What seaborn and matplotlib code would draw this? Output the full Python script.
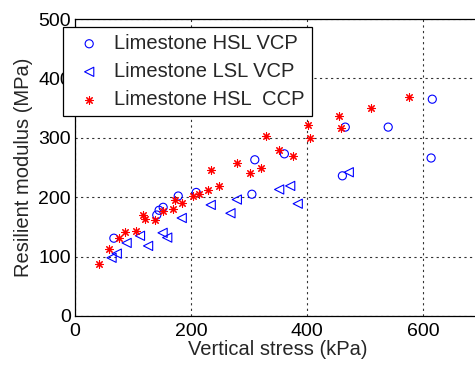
import numpy as np
import pandas as pd
import matplotlib
matplotlib.use("Agg")
import matplotlib.pyplot as plt
import seaborn as sns

# --- datos ---
hsl_vcp_x = [67, 141, 145, 152, 178, 209, 305, 310, 361, 466, 540, 616, 614, 461]
hsl_vcp_y = [131, 170, 178, 183, 202, 208, 205, 263, 273, 318, 318, 365, 266, 236]

lsl_vcp_x = [63, 72, 89, 112, 126, 151, 159, 184, 234, 268, 279, 352, 371, 384, 472]
lsl_vcp_y = [98, 105, 123, 135, 118, 140, 132, 165, 187, 173, 196, 213, 219, 189, 242]

hsl_ccp_x = [42, 59, 76, 86, 105, 117, 121, 138, 152, 169, 172, 184, 204, 213, 230,
             234, 249, 279, 301, 321, 329, 352, 375, 402, 405, 456, 459, 510, 575]
hsl_ccp_y = [87, 112, 132, 142, 143, 170, 163, 162, 176, 180, 196, 190, 202, 205, 212,
             246, 219, 257, 241, 250, 303, 279, 269, 322, 299, 336, 316, 351, 369]

etiquetas = ["Limestone HSL VCP", "Limestone LSL VCP", "Limestone HSL  CCP"]
x_ticks = [0, 200, 400, 600]
y_ticks = [0, 100, 200, 300, 400, 500]

sns.set_style("white")
plt.rcParams['font.family'] = ['Liberation Sans', 'DejaVu Sans']
FS = 14.5     # etiquetas y leyenda
FS_TICK = 14

W, H = 475, 365
fig = plt.figure(figsize=(W / 100, H / 100), dpi=100)
ax = fig.add_axes([75 / W, 1 - 316 / H, (481 - 75) / W, (316 - 19) / H])

sns.scatterplot(x=hsl_vcp_x, y=hsl_vcp_y, ax=ax, marker='o', s=34,
                facecolor='none', edgecolor='blue', linewidth=0.8,
                label=etiquetas[0], zorder=3)
sns.scatterplot(x=lsl_vcp_x, y=lsl_vcp_y, ax=ax, marker='<', s=44,
                facecolor='none', edgecolor='blue', linewidth=0.8,
                label=etiquetas[1], zorder=3)
sns.scatterplot(x=hsl_ccp_x, y=hsl_ccp_y, ax=ax, marker=(8, 2, 0), s=30,
                color='red', linewidth=0.8,
                label=etiquetas[2], zorder=3)

ax.set_xlim(0, 700)
ax.set_ylim(0, 500)
ax.set_xticks(x_ticks)
ax.set_yticks(y_ticks)
ax.tick_params(direction='in', length=4, labelsize=FS_TICK, colors='black')
ax.tick_params(axis='x', pad=5)
ax.tick_params(axis='y', pad=3)
ax.grid(True, linestyle=(0, (2, 3)), color='black', linewidth=0.8, alpha=0.8)
for s in ax.spines.values():
    s.set_visible(True)
    s.set_color('black')
    s.set_linewidth(0.9)

ax.set_xlabel("Vertical stress (kPa)", fontsize=FS, labelpad=0)
ax.set_ylabel("Resilient modulus (MPa)", fontsize=FS, labelpad=4)

leg = ax.legend(loc='upper left', bbox_to_anchor=(63 / W, 1 - 27 / H),
                bbox_transform=fig.transFigure, borderaxespad=0,
                fontsize=FS, frameon=True, fancybox=False, framealpha=1,
                edgecolor='black', borderpad=0.35, handlelength=1.9,
                handletextpad=0.3, labelspacing=0.45)
leg.get_frame().set_linewidth(0.9)

fig.savefig("out.png", dpi=100)
